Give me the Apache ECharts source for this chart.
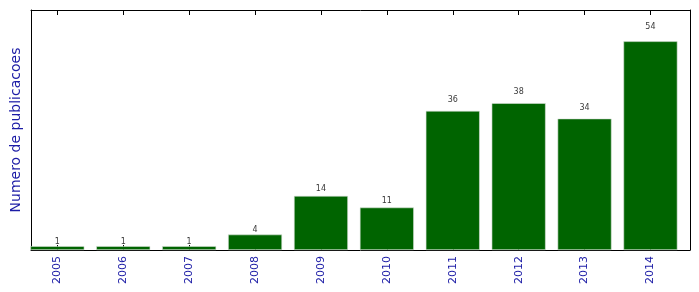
<!DOCTYPE html>
<html><head><meta charset="utf-8">
<script src="https://cdn.jsdelivr.net/npm/echarts@6/dist/echarts.min.js"></script>
<style>html,body{margin:0;padding:0;background:#fff}#c{width:699px;height:292px}</style>
</head><body><div id="c"></div>
<script>
const years = ['2005','2006','2007','2008','2009','2010','2011','2012','2013','2014'];
const counts = [1, 1, 1, 4, 14, 11, 36, 38, 34, 54];
const yLabel = 'Numero de publicacoes';

const positions = years.map((y, i) => i);
const chart = echarts.init(document.getElementById('c'), null, {renderer: 'canvas'});
const xCommon = {
  type: 'value', min: -0.4, max: 9.6,
  splitLine: {show: false},
  axisLine: {show: true, onZero: false, lineStyle: {color: '#000', width: 1}},
  axisTick: {show: true, inside: true, length: 5, lineStyle: {color: '#000'}, customValues: positions},
};
const yCommon = {
  type: 'value', min: 0, max: 62.1,
  axisLine: {show: true, onZero: false, lineStyle: {color: '#000'}},
  axisTick: {show: false}, axisLabel: {show: false}, splitLine: {show: false}
};
chart.setOption({
  animation: false,
  grid: {left: 31, right: 9, top: 10, bottom: 42},
  xAxis: [
    Object.assign({}, xCommon, {
      position: 'bottom',
      axisLabel: {show: true, rotate: 90, color: '#1c1ca6', fontFamily: 'DejaVu Sans', fontSize: 11, margin: 6,
        customValues: positions, formatter: v => years[Math.round(v)]}
    }),
    Object.assign({}, xCommon, {position: 'top', axisLabel: {show: false}})
  ],
  yAxis: [
    Object.assign({}, yCommon, {position: 'left', name: yLabel, nameLocation: 'middle', nameGap: 8,
      nameTextStyle: {color: '#1c1ca6', fontFamily: 'DejaVu Sans', fontSize: 14}}),
    Object.assign({}, yCommon, {position: 'right'})
  ],
  series: [{
    type: 'bar', xAxisIndex: 0, yAxisIndex: 0,
    data: counts.map((v, i) => [positions[i], v]),
    barWidth: 54,
    itemStyle: {color: '#006400', borderColor: '#d8e0d8', borderWidth: 0.6}
  }, {
    type: 'scatter', xAxisIndex: 0, yAxisIndex: 0,
    symbolSize: 0, silent: true,
    data: counts.map((v, i) => [positions[i], v * 1.05, v]),
    label: {show: true, position: 'top', distance: 0, color: '#000', fontFamily: 'DejaVu Sans', fontSize: 8,
      formatter: p => String(p.data[2])}
  }]
});
</script></body></html>
